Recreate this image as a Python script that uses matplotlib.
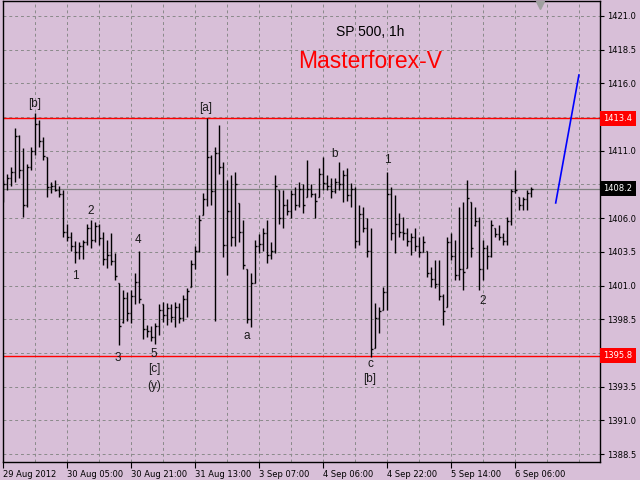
import matplotlib
matplotlib.use("Agg")
import matplotlib.pyplot as plt
import matplotlib.transforms as mtransforms
import numpy as np

# ---- data: S&P 500 hourly bars ----
highs = [1408.8, 1409.3, 1409.8, 1412.7, 1412.2, 1411.2, 1410.0, 1411.3, 1413.8, 1413.3,
         1412.0, 1410.5, 1408.7, 1408.8, 1408.4, 1408.1, 1405.6, 1405.0, 1404.3, 1404.2,
         1404.4, 1405.6, 1405.9, 1405.7, 1405.6, 1405.0, 1404.4, 1404.9, 1403.4, 1401.2,
         1400.7, 1400.5, 1400.7, 1401.9, 1403.6, 1399.6, 1398.1, 1398.0, 1398.2, 1399.6,
         1399.8, 1399.7, 1399.6, 1399.8, 1399.7, 1400.3, 1400.8, 1402.9, 1403.9, 1406.2,
         1407.9, 1413.4, 1410.7, 1411.3, 1412.9, 1410.2, 1408.8, 1409.2, 1409.4, 1407.1,
         1405.9, 1402.2, 1401.9, 1404.4, 1404.8, 1405.3, 1405.9, 1404.2, 1409.2, 1408.1,
         1408.1, 1407.4, 1408.1, 1408.3, 1408.7, 1408.5, 1410.3, 1408.5, 1407.9, 1409.7,
         1410.5, 1409.2, 1409.0, 1409.0, 1410.2, 1409.6, 1409.7, 1408.6, 1408.3, 1407.0,
         1406.8, 1406.0, 1405.3, 1399.7, 1399.4, 1400.9, 1409.4, 1408.3, 1407.7, 1406.4,
         1406.1, 1405.3, 1404.9, 1405.3, 1404.6, 1404.7, 1403.6, 1402.4, 1402.9, 1402.9,
         1400.4, 1404.6, 1404.9, 1404.4, 1406.8, 1407.2, 1408.8, 1407.2, 1406.8, 1406.1,
         1404.4, 1404.0, 1405.9, 1405.3, 1405.5, 1404.9, 1406.1, 1408.2, 1409.6, 1407.6,
         1407.6, 1408.1, 1408.3]
lows = [1407.2, 1408.1, 1408.4, 1408.7, 1409.0, 1406.1, 1406.8, 1409.6, 1410.7, 1411.3,
        1410.3, 1407.6, 1407.9, 1408.0, 1407.6, 1404.6, 1404.3, 1403.6, 1402.7, 1403.0,
        1403.0, 1404.0, 1403.8, 1404.2, 1404.0, 1402.5, 1402.3, 1402.5, 1401.4, 1396.6,
        1398.2, 1398.4, 1398.2, 1399.6, 1399.7, 1397.0, 1397.2, 1396.9, 1396.7, 1397.3,
        1398.3, 1398.1, 1398.3, 1397.9, 1398.2, 1398.4, 1398.7, 1400.9, 1402.2, 1403.5,
        1406.2, 1406.9, 1407.0, 1398.4, 1409.3, 1403.1, 1401.8, 1403.9, 1403.9, 1404.2,
        1402.2, 1398.2, 1397.9, 1401.2, 1403.4, 1403.6, 1402.7, 1403.0, 1403.4, 1405.6,
        1405.3, 1406.2, 1406.0, 1406.6, 1406.8, 1406.4, 1407.6, 1407.6, 1406.0, 1407.6,
        1408.1, 1408.1, 1407.5, 1407.9, 1408.1, 1407.2, 1407.3, 1406.8, 1403.8, 1404.0,
        1405.0, 1403.1, 1395.7, 1396.4, 1397.5, 1399.2, 1399.2, 1404.4, 1403.4, 1404.6,
        1404.4, 1403.9, 1403.3, 1403.6, 1403.1, 1403.5, 1401.6, 1400.9, 1400.8, 1399.9,
        1398.1, 1399.4, 1402.9, 1401.4, 1401.4, 1400.7, 1402.3, 1403.1, 1405.4, 1400.7,
        1401.4, 1402.2, 1403.1, 1404.6, 1404.4, 1404.0, 1404.0, 1405.5, 1407.9, 1406.6,
        1406.6, 1406.6, 1407.6]
opens = [1407.6, 1408.5, 1409.0, 1409.4, 1412.1, 1409.6, 1407.0, 1409.8, 1411.0, 1413.0,
         1411.7, 1410.5, 1408.3, 1408.4, 1408.1, 1407.8, 1405.0, 1404.6, 1403.9, 1403.5,
         1403.9, 1404.2, 1405.3, 1404.4, 1405.4, 1404.5, 1403.0, 1403.3, 1402.8, 1401.2,
         1398.3, 1400.1, 1399.0, 1400.2, 1401.3, 1399.6, 1397.8, 1397.6, 1397.2, 1398.0,
         1399.2, 1398.8, 1399.3, 1398.7, 1399.4, 1398.6, 1400.0, 1400.9, 1402.6, 1403.6,
         1406.2, 1407.4, 1410.5, 1408.0, 1410.8, 1409.8, 1404.0, 1406.5, 1404.6, 1407.1,
         1405.0, 1402.2, 1398.5, 1401.2, 1403.9, 1404.1, 1404.9, 1403.3, 1403.6, 1408.1,
         1406.0, 1407.0, 1406.5, 1407.8, 1407.0, 1408.2, 1407.6, 1408.2, 1407.8, 1407.6,
         1409.3, 1408.6, 1408.4, 1408.0, 1408.7, 1408.5, 1409.2, 1407.7, 1408.2, 1404.3,
         1406.3, 1405.3, 1403.6, 1396.4, 1398.6, 1399.2, 1400.5, 1407.8, 1404.9, 1405.6,
         1405.0, 1404.9, 1404.3, 1404.6, 1403.9, 1403.5, 1403.6, 1401.9, 1401.5, 1401.1,
         1400.2, 1399.4, 1404.2, 1403.2, 1401.8, 1402.2, 1402.3, 1407.2, 1405.5, 1405.8,
         1402.2, 1403.8, 1403.2, 1405.3, 1404.8, 1404.6, 1404.3, 1405.8, 1408.0, 1407.6,
         1407.0, 1407.4, 1407.9]
closes = [1408.5, 1409.0, 1409.4, 1412.1, 1409.6, 1407.0, 1409.8, 1411.0, 1413.0, 1411.7,
          1410.6, 1408.3, 1408.4, 1408.1, 1407.8, 1405.0, 1404.6, 1403.9, 1403.5, 1403.9,
          1404.2, 1405.3, 1404.4, 1405.4, 1404.5, 1403.0, 1403.3, 1402.8, 1401.7, 1398.0,
          1400.1, 1399.0, 1400.2, 1401.3, 1400.0, 1397.8, 1397.6, 1397.2, 1398.0, 1399.2,
          1398.8, 1399.3, 1398.7, 1399.4, 1398.6, 1400.0, 1400.6, 1402.6, 1403.6, 1405.9,
          1407.4, 1410.5, 1408.0, 1410.8, 1409.8, 1404.0, 1406.5, 1404.6, 1408.5, 1405.0,
          1402.5, 1398.5, 1401.2, 1403.9, 1404.1, 1404.9, 1403.3, 1403.6, 1408.4, 1406.0,
          1407.0, 1406.5, 1407.8, 1407.0, 1408.2, 1407.0, 1408.2, 1407.8, 1407.3, 1409.3,
          1408.6, 1408.4, 1408.0, 1408.7, 1408.5, 1409.2, 1407.7, 1408.2, 1404.3, 1406.3,
          1405.3, 1403.6, 1396.3, 1398.6, 1399.1, 1400.5, 1407.8, 1404.9, 1405.6, 1405.0,
          1404.9, 1404.3, 1404.6, 1403.9, 1403.5, 1404.2, 1401.9, 1401.5, 1401.1, 1400.2,
          1399.1, 1404.2, 1403.2, 1401.8, 1402.2, 1402.0, 1407.5, 1403.8, 1405.8, 1402.2,
          1403.8, 1403.2, 1405.5, 1404.8, 1404.6, 1404.3, 1405.8, 1408.0, 1408.1, 1407.0,
          1407.4, 1407.9, 1408.2]

time_labels = ["29 Aug 2012", "30 Aug 05:00", "30 Aug 21:00", "31 Aug 13:00",
               "3 Sep 07:00", "4 Sep 06:00", "4 Sep 22:00", "5 Sep 14:00", "6 Sep 06:00"]
bars_per_label = 16
price_ticks = [1388.5, 1391.0, 1393.5, 1396.0, 1398.5, 1401.0, 1403.5, 1406.0,
               1408.5, 1411.0, 1413.5, 1416.0, 1418.5, 1421.0]
hidden_tick = 1413.5   # fully covered by the 1413.4 marker in the original
upper_level = 1413.4
lower_level = 1395.8
last_price = 1408.2

# wave counts: (text, bar, price)
wave_labels = [("[b]", 7.9, 1414.47), ("2", 21.85, 1406.53), ("1", 17.9, 1401.71),
               ("4", 33.6, 1404.35), ("3", 28.7, 1395.63), ("5", 37.7, 1395.93),
               ("[c]", 37.7, 1394.81), ("(y)", 37.7, 1393.55), ("[a]", 50.7, 1414.18),
               ("a", 60.8, 1397.26), ("b", 82.8, 1410.76), ("1", 95.9, 1410.28),
               ("c", 91.7, 1395.18), ("[b]", 91.7, 1394.07), ("2", 119.75, 1399.86)]
# projected move (bar, price)
proj_bars = [138.1, 143.9]
proj_prices = [1407.13, 1416.62]

# ---- drawing ----
bg = "#D8BFD8"
fig = plt.figure(figsize=(6.4, 4.8), dpi=100, facecolor=bg)
ax = fig.add_axes([3 / 640, 18 / 480, 597 / 640, 461 / 480], facecolor=bg)

x = np.arange(len(highs))
ax.set_xlim(-0.075, 149.175)
ax.set_ylim(1387.91, 1422.11)

grid_kw = dict(color="#8a8a8a", lw=0.7, ls=(0, (3, 3)), zorder=0)
for gy in price_ticks:
    ax.axhline(gy, **grid_kw)
for gx in np.arange(8, 150, 8):
    ax.axvline(gx, **grid_kw)

ax.axhline(upper_level, color="#ff0000", lw=1.0, zorder=1)
ax.axhline(lower_level, color="#ff0000", lw=1.0, zorder=1)
ax.axhline(last_price, color="#808080", lw=0.9, zorder=1)

ax.vlines(x, lows, highs, color="black", lw=1.0, zorder=3)
ax.hlines(opens, x - 0.35, x, color="black", lw=1.0, zorder=3)
ax.hlines(closes, x, x + 0.35, color="black", lw=1.0, zorder=3)

ax.plot(proj_bars, proj_prices, color="#0000ff", lw=1.2, zorder=4)

for txt, bx, py in wave_labels:
    ax.text(bx, py, txt, ha="center", va="center", fontsize=8.5,
            family="Liberation Sans", color="#1a1a1a", zorder=5)

fig.text(370 / 640, 1 - 32 / 480, "SP 500, 1h", ha="center", va="center",
         fontsize=10, family="Liberation Sans", color="black")
fig.text(370 / 640, 1 - 62 / 480, "Masterforex-V", ha="center", va="center",
         fontsize=16.5, family="Liberation Sans", color="#ff0000")

# axes / ticks
ax.yaxis.tick_right()
ax.set_yticks(price_ticks)
ax.set_yticklabels(["" if v == hidden_tick else f"{v:.1f}" for v in price_ticks])
ax.set_xticks(np.arange(len(time_labels)) * bars_per_label)
ax.set_xticklabels(time_labels)
for lab in ax.get_xticklabels():
    lab.set_ha("left")
ax.tick_params(axis="y", direction="out", length=3, width=0.8, pad=2,
               labelsize=6, colors="black")
ax.tick_params(axis="x", direction="out", length=4, width=0.8, pad=2,
               labelsize=6, colors="black")
for s in ax.spines.values():
    s.set_color("black")
    s.set_linewidth(1.0)

trans = mtransforms.blended_transform_factory(ax.transAxes, ax.transData)
for val, fc in [(upper_level, "#ff0000"), (lower_level, "#ff0000"), (last_price, "black")]:
    ax.text(1.0 + 3.5 / 597, val, f"{val:.1f}", transform=trans, ha="left", va="center",
            fontsize=6, color="white", clip_on=False, zorder=10,
            bbox=dict(boxstyle="square,pad=0.4", fc=fc, ec="none"))

# chart shift marker
ax.plot([134.2], [1421.85], marker="v", ms=6, color="#a0a0a0", clip_on=False, zorder=6)

fig.savefig("out.png", dpi=100, facecolor=bg)
